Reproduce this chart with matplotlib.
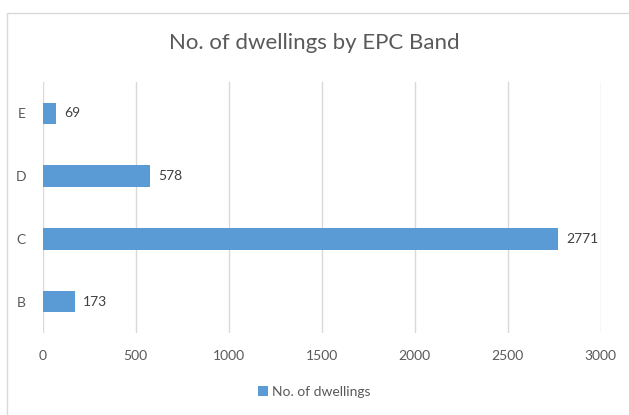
import matplotlib.pyplot as plt
from matplotlib.patches import Rectangle

bands = ['B', 'C', 'D', 'E']
dwellings = [173, 2771, 578, 69]
xticks = [0, 500, 1000, 1500, 2000, 2500, 3000]

W, H = 629, 415
fig = plt.figure(figsize=(W / 100, H / 100), dpi=100)
plt.rcParams['font.family'] = ['Lato', 'DejaVu Sans']

# chart area border (light grey, runs off right/bottom)
fig.patches.append(Rectangle((7 / W, -0.1), 1.2, 1.1 - 13 / H, transform=fig.transFigure,
                             fill=False, edgecolor='#d9d9d9', linewidth=1))

ax = fig.add_axes([42.7 / W, 1 - 333 / H, 558 / W, 251 / H])
bars = ax.barh(bands, dwellings, height=0.34, color='#5b9bd5', label='No. of dwellings', zorder=3)
for b, v in zip(bars, dwellings):
    ax.text(v + 45, b.get_y() + b.get_height() / 2, str(v), va='center', ha='left',
            fontsize=10, color='#404040')

ax.set_xlim(0, 3000)
ax.set_ylim(-0.5, 3.5)
ax.set_xticks(xticks)
ax.grid(axis='x', color='#d9d9d9', linewidth=1, zorder=0)
for s in ax.spines.values():
    s.set_visible(False)
ax.tick_params(length=0, labelsize=10, colors='#595959')
ax.tick_params(axis='x', pad=12)
ax.tick_params(axis='y', pad=12)

fig.text(0.5, 1 - 43 / H, 'No. of dwellings by EPC Band', ha='center', va='center',
         fontsize=16, color='#595959')
fig.legend(loc='center', bbox_to_anchor=(0.5, 1 - 392 / H), frameon=False, fontsize=10,
           handlelength=0.7, handleheight=0.7, handletextpad=0.3, labelcolor='#595959')

fig.savefig('out.png', dpi=100)
